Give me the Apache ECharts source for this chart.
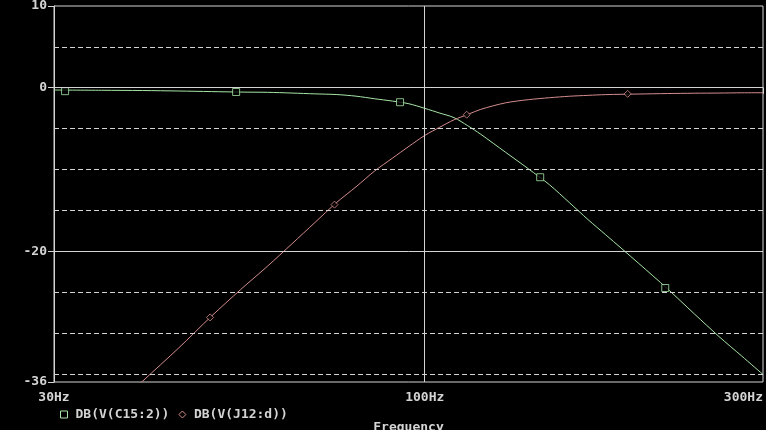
<!DOCTYPE html>
<html><head><meta charset="utf-8">
<script src="https://cdn.jsdelivr.net/npm/echarts@6/dist/echarts.min.js"></script>
<style>html,body{margin:0;padding:0;background:#000;}#c{width:766px;height:430px;}</style>
</head><body><div id="c"></div>
<script>
// Frequency samples (Hz) and read-off dB values
const freqs = [30,35,40,45,50,55,60,65,70,75,80,85,90,95,100,105,110,115,120,130,140,150,160,170,180,200,220,240,260,280,300];
const greenDb = [-0.28,-0.31,-0.34,-0.40,-0.47,-0.53,-0.56,-0.65,-0.75,-0.83,-1.03,-1.35,-1.63,-1.96,-2.52,-3.10,-3.66,-4.65,-5.70,-7.89,-9.91,-11.88,-14.06,-16.14,-17.99,-21.43,-24.60,-27.66,-30.43,-32.83,-35.08];
const redDb = [-46.0,-40.55,-35.9,-31.82,-27.97,-24.69,-21.84,-19.08,-16.49,-14.09,-12.12,-10.18,-8.63,-7.17,-5.84,-4.83,-3.92,-3.27,-2.64,-1.85,-1.46,-1.22,-1.04,-0.93,-0.84,-0.77,-0.71,-0.67,-0.65,-0.62,-0.61];
// marker positions
const greenMarkF = [31.1, 54.2, 92.3, 145.5, 218.4];
const greenMarkDb = [-0.42, -0.52, -1.77, -10.95, -24.5];
const redMarkF = [49.8, 74.6, 114.6, 193.3];
const redMarkDb = [-28.1, -14.3, -3.3, -0.75];
// axis / grid values
const yTickLabels = [10, 0, -20, -36];
const solidGridY = [0, -20];
const dashedGridY = [5, -5, -10, -15, -25, -30, -35];
const solidGridX = [100];
const seriesNames = ['DB(V(C15:2))', 'DB(V(J12:d))'];

const GREEN = '#a6e6a6', RED = '#d48c8c', FG = '#d4d4d4';
const FONT = 'DejaVu Sans Mono';

const chart = echarts.init(document.getElementById('c'), null, {renderer: 'canvas'});
const zip = (a, b) => a.map((v, i) => [v, b[i]]);

const gridLines = []
  .concat(dashedGridY.map(v => ({yAxis: v, lineStyle: {type: [5, 3], color: FG, width: 1}})))
  .concat(solidGridY.map(v => ({yAxis: v, lineStyle: {type: 'solid', color: FG, width: 1}})))
  .concat(solidGridX.map(v => ({xAxis: v, lineStyle: {type: 'solid', color: FG, width: 1}})));

chart.setOption({
  animation: false,
  backgroundColor: '#000',
  grid: {left: 54, top: 6, right: 3, bottom: 48, show: true, borderColor: FG, borderWidth: 1,
         containLabel: false, outerBoundsMode: 'none'},
  xAxis: {
    type: 'log', logBase: 10, min: 30, max: 300,
    axisLine: {show: true, lineStyle: {color: FG}},
    axisTick: {show: true, length: 6, lineStyle: {color: FG}},
    minorTick: {show: false},
    splitLine: {show: false},
    axisLabel: {color: FG, fontFamily: FONT, fontSize: 13, fontWeight: 'bold', margin: 9,
      formatter: v => Math.round(v) + 'Hz', alignMaxLabel: 'right', alignMinLabel: 'center',
      showMinLabel: true, showMaxLabel: true},
    name: 'Frequency', nameLocation: 'middle', nameGap: 39,
    nameTextStyle: {color: FG, fontFamily: FONT, fontSize: 13, fontWeight: 'bold', verticalAlign: 'top'}
  },
  yAxis: {
    type: 'value', min: -36, max: 10,
    axisLine: {show: true, lineStyle: {color: FG}},
    axisTick: {show: true, length: 6, inside: false, customValues: yTickLabels, lineStyle: {color: FG}},
    splitLine: {show: false},
    axisLabel: {color: FG, fontFamily: FONT, fontSize: 13, fontWeight: 'bold', margin: 7, customValues: yTickLabels}
  },
  legend: {
    left: 55, top: 403, itemWidth: 7, itemHeight: 7, itemGap: 9,
    textStyle: {color: FG, fontFamily: FONT, fontSize: 13, fontWeight: 'bold', padding: [0, 0, 0, 3]},
    data: [
      {name: seriesNames[0], icon: 'rect', itemStyle: {color: 'transparent', borderColor: GREEN, borderWidth: 1}},
      {name: seriesNames[1], icon: 'diamond', itemStyle: {color: 'transparent', borderColor: RED, borderWidth: 1}}
    ]
  },
  series: [
    {type: 'line', name: 'grid', data: [], z: 1, silent: true,
     markLine: {silent: true, symbol: ['none', 'none'], label: {show: false}, animation: false, data: gridLines}},
    {type: 'line', name: seriesNames[0], data: zip(freqs, greenDb), showSymbol: false, smooth: 0.3, z: 3,
     lineStyle: {color: GREEN, width: 1}, itemStyle: {color: GREEN}},
    {type: 'line', name: seriesNames[1], data: zip(freqs, redDb), showSymbol: false, smooth: 0.3, z: 3,
     lineStyle: {color: RED, width: 1}, itemStyle: {color: RED}},
    {type: 'scatter', name: seriesNames[0], data: zip(greenMarkF, greenMarkDb), symbol: 'rect', symbolSize: 7, z: 4,
     itemStyle: {color: '#000', borderColor: GREEN, borderWidth: 1}},
    {type: 'scatter', name: seriesNames[1], data: zip(redMarkF, redMarkDb), symbol: 'diamond', symbolSize: 7, z: 4,
     itemStyle: {color: '#000', borderColor: RED, borderWidth: 1}}
  ]
});
</script>
</body></html>
